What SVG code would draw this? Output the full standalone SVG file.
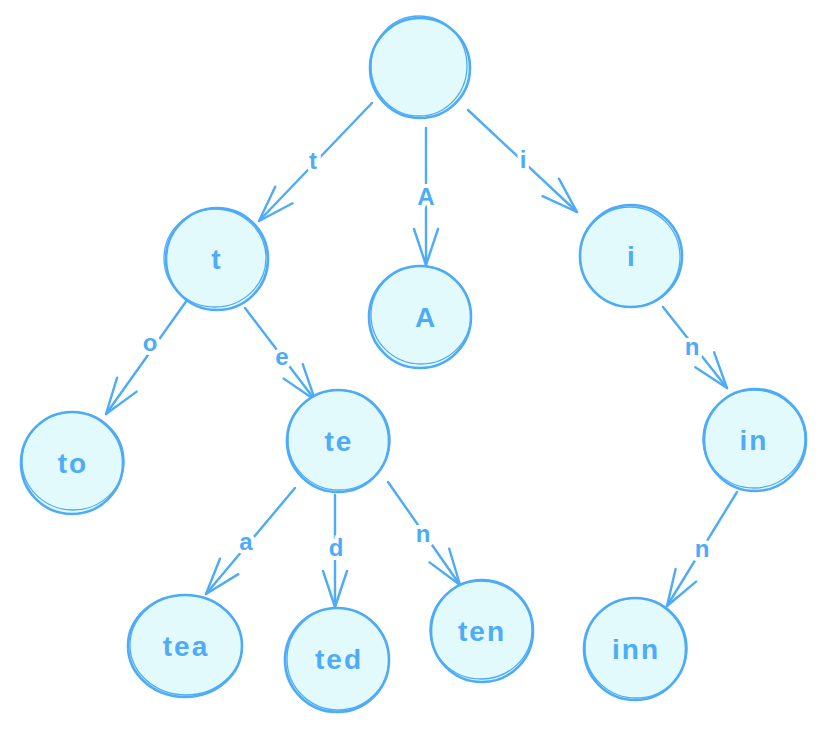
<svg xmlns="http://www.w3.org/2000/svg" width="825" height="729" viewBox="0 0 825 729">
<style>
.n{fill:#e3fafc;stroke:#4dabf7;stroke-width:2.6}
.n2{fill:none;stroke:#4dabf7;stroke-width:1.3}
.e{stroke:#4dabf7;stroke-width:2.4;fill:none;stroke-linecap:round}
.t{font-family:"Liberation Sans",Arial,sans-serif;font-size:28px;font-weight:bold;fill:#4dabf7;text-anchor:middle;letter-spacing:2px}
.l{font-family:"Liberation Sans",Arial,sans-serif;font-size:24px;font-weight:bold;fill:#4dabf7;text-anchor:middle;stroke:#fff;stroke-width:8;paint-order:stroke;stroke-linejoin:round}
</style>
<defs>
<marker id="ah" markerUnits="userSpaceOnUse" markerWidth="50" markerHeight="40" viewBox="-40 -20 50 40" refX="0" refY="0" orient="auto">
<path d="M-36,-12 L0,0 L-36,12" fill="none" stroke="#4dabf7" stroke-width="2.4" stroke-linecap="round" stroke-linejoin="round"/>
</marker>
</defs>
<g id="edges">
<line class="e" x1="372" y1="103" x2="259" y2="221" marker-end="url(#ah)"/>
<line class="e" x1="426" y1="128" x2="426" y2="265" marker-end="url(#ah)"/>
<line class="e" x1="468" y1="110" x2="577" y2="212" marker-end="url(#ah)"/>
<line class="e" x1="190" y1="296" x2="106" y2="414" marker-end="url(#ah)"/>
<line class="e" x1="245" y1="308" x2="315" y2="400" marker-end="url(#ah)"/>
<line class="e" x1="295" y1="488" x2="206" y2="594" marker-end="url(#ah)"/>
<line class="e" x1="335" y1="495" x2="335" y2="607" marker-end="url(#ah)"/>
<line class="e" x1="388" y1="482" x2="460" y2="585" marker-end="url(#ah)"/>
<line class="e" x1="663" y1="307" x2="727" y2="388" marker-end="url(#ah)"/>
<line class="e" x1="737" y1="492" x2="667" y2="606" marker-end="url(#ah)"/>
<text class="l" x="313" y="169">t</text>
<text class="l" x="426" y="205">A</text>
<text class="l" x="523" y="168">i</text>
<text class="l" x="150" y="351">o</text>
<text class="l" x="282" y="365">e</text>
<text class="l" x="246" y="550">a</text>
<text class="l" x="336" y="556">d</text>
<text class="l" x="423" y="542">n</text>
<text class="l" x="692" y="355">n</text>
<text class="l" x="702" y="557">n</text>
</g>
<g id="root"><circle class="n" cx="420" cy="68" r="50"/><ellipse class="n2" cx="419" cy="66" rx="48" ry="50"/></g>
<g id="node-t"><circle class="n" cx="217" cy="259" r="51"/><ellipse class="n2" cx="215" cy="258" rx="51" ry="49"/><text class="t" x="217" y="269">t</text></g>
<g id="node-A"><circle class="n" cx="420" cy="317" r="51"/><ellipse class="n2" cx="421" cy="315" rx="50" ry="49"/><text class="t" x="426" y="327">A</text></g>
<g id="node-i"><circle class="n" cx="631" cy="256" r="51"/><ellipse class="n2" cx="630" cy="257" rx="50" ry="50"/><text class="t" x="632" y="266">i</text></g>
<g id="node-to"><circle class="n" cx="72" cy="463" r="51"/><ellipse class="n2" cx="73" cy="461" rx="51" ry="49"/><text class="t" x="73" y="473">to</text></g>
<g id="node-te"><circle class="n" cx="338" cy="441" r="51"/><ellipse class="n2" cx="339" cy="440" rx="51" ry="50"/><text class="t" x="339" y="451">te</text></g>
<g id="node-in"><circle class="n" cx="755" cy="440" r="51"/><ellipse class="n2" cx="754" cy="439" rx="51" ry="49"/><text class="t" x="754" y="450">in</text></g>
<g id="node-tea"><ellipse class="n" cx="185" cy="646" rx="57" ry="51"/><ellipse class="n2" cx="186" cy="645" rx="56" ry="50"/><text class="t" x="186" y="656">tea</text></g>
<g id="node-ted"><circle class="n" cx="337" cy="660" r="52"/><ellipse class="n2" cx="338" cy="659" rx="51" ry="51"/><text class="t" x="339" y="669">ted</text></g>
<g id="node-ten"><circle class="n" cx="482" cy="631" r="51"/><ellipse class="n2" cx="481" cy="630" rx="51" ry="49"/><text class="t" x="482" y="641">ten</text></g>
<g id="node-inn"><circle class="n" cx="635" cy="649" r="51"/><ellipse class="n2" cx="636" cy="648" rx="51" ry="50"/><text class="t" x="636" y="659">inn</text></g>
</svg>
